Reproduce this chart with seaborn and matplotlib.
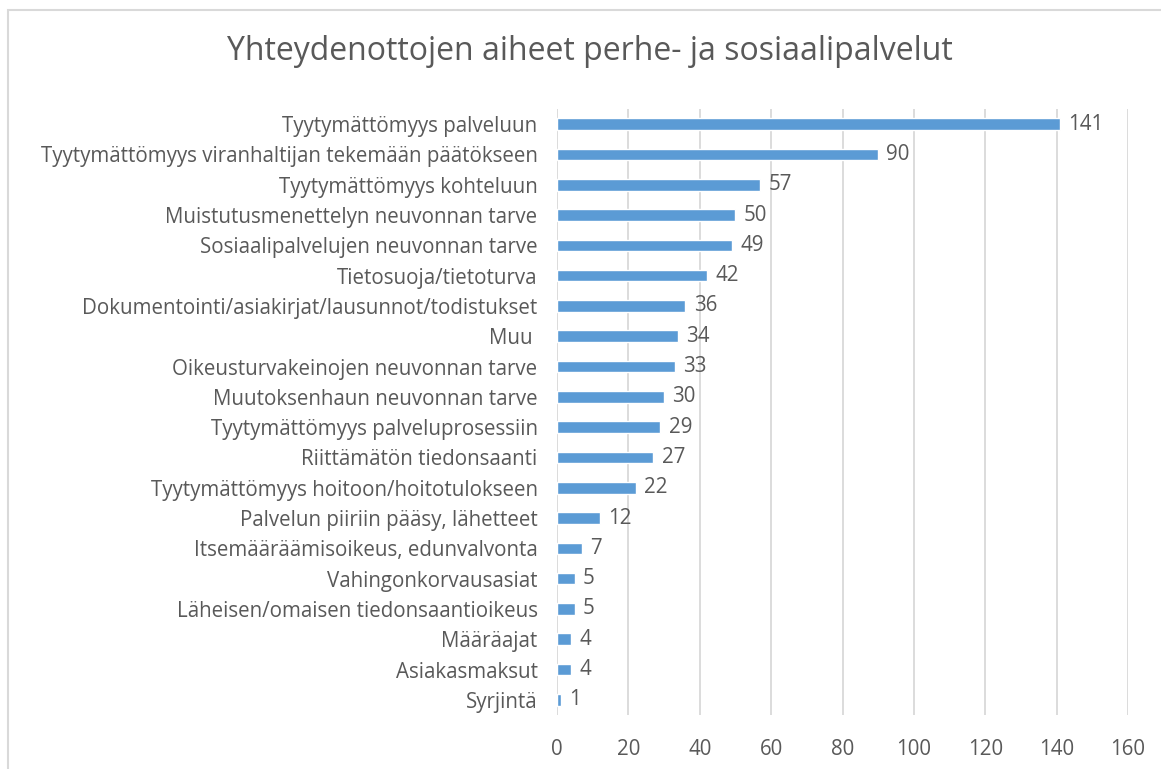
import matplotlib
matplotlib.use("Agg")
import matplotlib.pyplot as plt
import seaborn as sns
import pandas as pd
from matplotlib.patches import Rectangle

categories = [
    "Tyytymättömyys palveluun",
    "Tyytymättömyys viranhaltijan tekemään päätökseen",
    "Tyytymättömyys kohteluun",
    "Muistutusmenettelyn neuvonnan tarve",
    "Sosiaalipalvelujen neuvonnan tarve",
    "Tietosuoja/tietoturva",
    "Dokumentointi/asiakirjat/lausunnot/todistukset",
    "Muu ",
    "Oikeusturvakeinojen neuvonnan tarve",
    "Muutoksenhaun neuvonnan tarve",
    "Tyytymättömyys palveluprosessiin",
    "Riittämätön tiedonsaanti",
    "Tyytymättömyys hoitoon/hoitotulokseen",
    "Palvelun piiriin pääsy, lähetteet",
    "Itsemääräämisoikeus, edunvalvonta",
    "Vahingonkorvausasiat",
    "Läheisen/omaisen tiedonsaantioikeus",
    "Määräajat",
    "Asiakasmaksut",
    "Syrjintä",
]
counts = [141, 90, 57, 50, 49, 42, 36, 34, 33, 30, 29, 27, 22, 12, 7, 5, 5, 4, 4, 1]
x_ticks = [0, 20, 40, 60, 80, 100, 120, 140, 160]

df = pd.DataFrame({"aihe": categories, "lkm": counts})

sns.set_style("white")
plt.rcParams["font.family"] = ["Open Sans", "DejaVu Sans"]
text_color = "#595959"
grid_color = "#D9D9D9"
bar_color = "#5B9BD5"
fs = 14.8

fig = plt.figure(figsize=(11.61, 7.69), dpi=100)
fig.patches.append(Rectangle((8 / 1161, -0.05), 1.1, 1 - 10 / 769 + 0.05,
                             transform=fig.transFigure, fill=False,
                             edgecolor=grid_color, linewidth=1.5, zorder=0))

ax = fig.add_axes([557 / 1161, 54 / 769, 571 / 1161, 606 / 769])
sns.barplot(data=df, x="lkm", y="aihe", orient="h", color=bar_color,
            width=0.38, saturation=1, ax=ax, zorder=3)

for i, v in enumerate(counts):
    ax.text(v + 2.3, i, str(v), va="center", ha="left", fontsize=fs, color=text_color)

ax.set_xlim(0, 160)
ax.set_xticks(x_ticks)
ax.set_xticklabels([str(t) for t in x_ticks], fontsize=fs, color=text_color)
ax.tick_params(axis="y", labelsize=fs, labelcolor=text_color, length=0, pad=14)
ax.tick_params(axis="x", length=0, pad=17)
ax.xaxis.grid(True, color=grid_color, linewidth=1.3, zorder=0)
ax.set_axisbelow(True)
for s in ax.spines.values():
    s.set_visible(False)
ax.set_xlabel("")
ax.set_ylabel("")

fig.text(590 / 1161, 1 - 52 / 769, "Yhteydenottojen aiheet perhe- ja sosiaalipalvelut",
         ha="center", va="center", fontsize=23, color=text_color)

fig.savefig("out.png", dpi=100)
